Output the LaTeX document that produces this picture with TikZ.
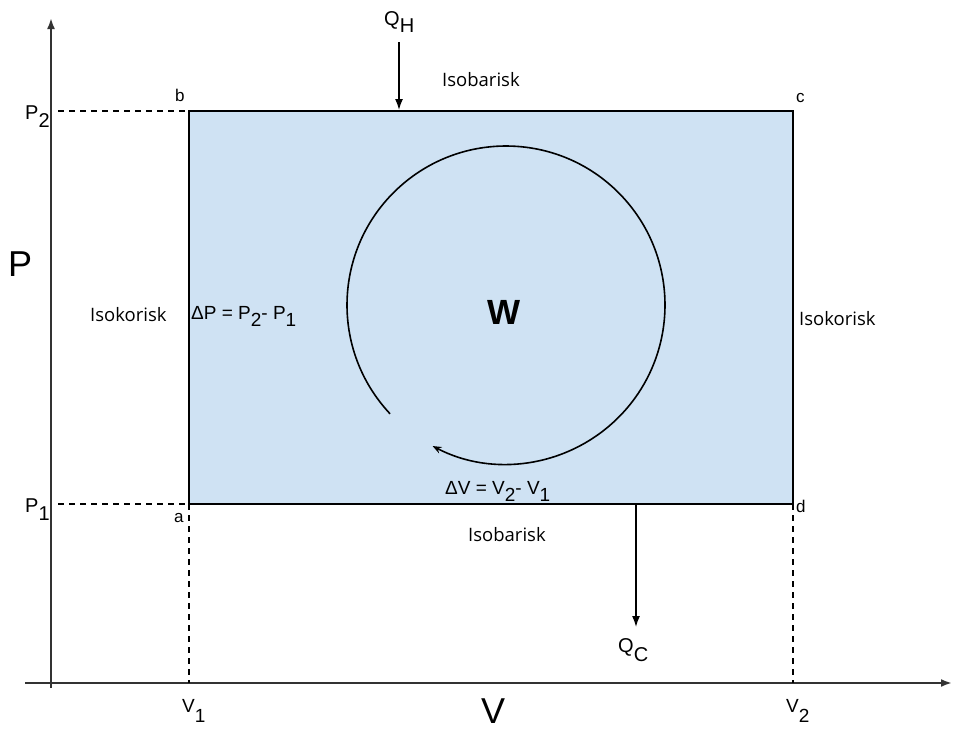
\documentclass[tikz,border=0pt]{standalone}
\usepackage{fontspec}
\setmainfont{Liberation Sans}
\newfontfamily\isofont{Open Sans}
\usetikzlibrary{arrows.meta}
\definecolor{fillblue}{HTML}{CFE2F3}
\definecolor{axisgray}{HTML}{333333}
\newcommand{\lowsub}[2]{\raisebox{-#1}{#2}}
\begin{document}
\begin{tikzpicture}[x=1pt,y=-1pt,
  txt/.style={inner sep=0pt, anchor=base west},
  small/.style={txt, font=\fontsize{17}{17}\selectfont},
  mid/.style={txt, font=\fontsize{20}{20}\selectfont},
  big/.style={txt, font=\fontsize{36}{36}\selectfont},
  iso/.style={txt, font=\isofont\fontsize{18.5}{18.5}\selectfont},
  delta/.style={txt, font=\fontsize{19}{19}\selectfont},
  axisline/.style={line width=2.2pt, draw=axisgray, -{Latex[length=11pt,width=8pt]}},
  guide/.style={line width=1.6pt, dash pattern=on 6pt off 5pt},
  edge/.style={line width=2pt},
  heat/.style={line width=1.5pt, -{Latex[length=11pt,width=8pt]}},
  cyc/.style={line width=1.6pt, -{Stealth[length=9pt,width=7pt]}}]
\useasboundingbox (0,0) rectangle (953,729);
% corners
\coordinate (a) at (189,504);
\coordinate (b) at (189,111);
\coordinate (c) at (793,111);
\coordinate (d) at (793,504);
\fill[fillblue] (a) rectangle (c);
% axes
\coordinate (ybot) at (51,688);
\coordinate (ytip) at (51,18);
\coordinate (xleft) at (25,683);
\coordinate (xtip) at (952,683);
\draw[axisline] (ybot) -- (ytip);
\draw[axisline] (xleft) -- (xtip);
% guides
\coordinate (p2a) at (58,111);
\coordinate (p1a) at (58,504);
\coordinate (v1a) at (189,683);
\coordinate (v2a) at (793,683);
\draw[guide] (p2a) -- (b);
\draw[guide] (p1a) -- (a);
\draw[guide] (a) -- (v1a);
\draw[guide] (d) -- (v2a);
% rectangle
\draw[edge] (a) -- (b) -- (c) -- (d) -- cycle;
% heat arrows
\coordinate (qhs) at (399,42);
\coordinate (qhe) at (399,110);
\draw[heat] (qhs) -- (qhe);
\coordinate (qcs) at (636,505);
\coordinate (qce) at (636,627);
\draw[heat] (qcs) -- (qce);
% cycle arc
\coordinate (cc) at (506,305);
\draw[cyc] ([shift={(136.8:159)}]cc) arc[start angle=136.8, end angle=477.5, radius=159];
% labels
\node[mid] (P2) at (25,119) {P\lowsub{8pt}{2}};
\node[mid] (P1) at (25,512) {P\lowsub{8pt}{1}};
\node[small] (lb) at (175,101) {b};
\node[small] (lc) at (796,102) {c};
\node[small] (la) at (174,522) {a};
\node[small] (ld) at (796,512) {d};
\node[txt, font=\fontsize{20}{20}\selectfont] (QH) at (384,25) {Q\lowsub{7pt}{H}};
\node[txt, font=\fontsize{20}{20}\selectfont] (QC) at (618,652) {Q\lowsub{9pt}{C}};
\node[txt, font=\fontsize{19}{19}\selectfont] (V1) at (182,712) {V\lowsub{10pt}{1}};
\node[txt, font=\fontsize{19}{19}\selectfont] (V2) at (786,712) {V\lowsub{10pt}{2}};
\node[big] (Plab) at (8,276) {P};
\node[big] (Vlab) at (481,723) {V};
\node[iso] (isotop) at (442,86) {Isobarisk};
\node[iso] (isobot) at (468,541) {Isobarisk};
\node[iso] (isoleft) at (90,321) {Isokorisk};
\node[iso] (isoright) at (799,325) {Isokorisk};
\node[delta] (dP) at (191,319) {ΔP = P\lowsub{7pt}{2}- P\lowsub{7pt}{1}};
\node[delta] (dV) at (445,494) {ΔV = V\lowsub{7pt}{2}- V\lowsub{7pt}{1}};
\node[txt, font=\bfseries\fontsize{35}{35}\selectfont] (W) at (487,324) {W};
\end{tikzpicture}
\end{document}
